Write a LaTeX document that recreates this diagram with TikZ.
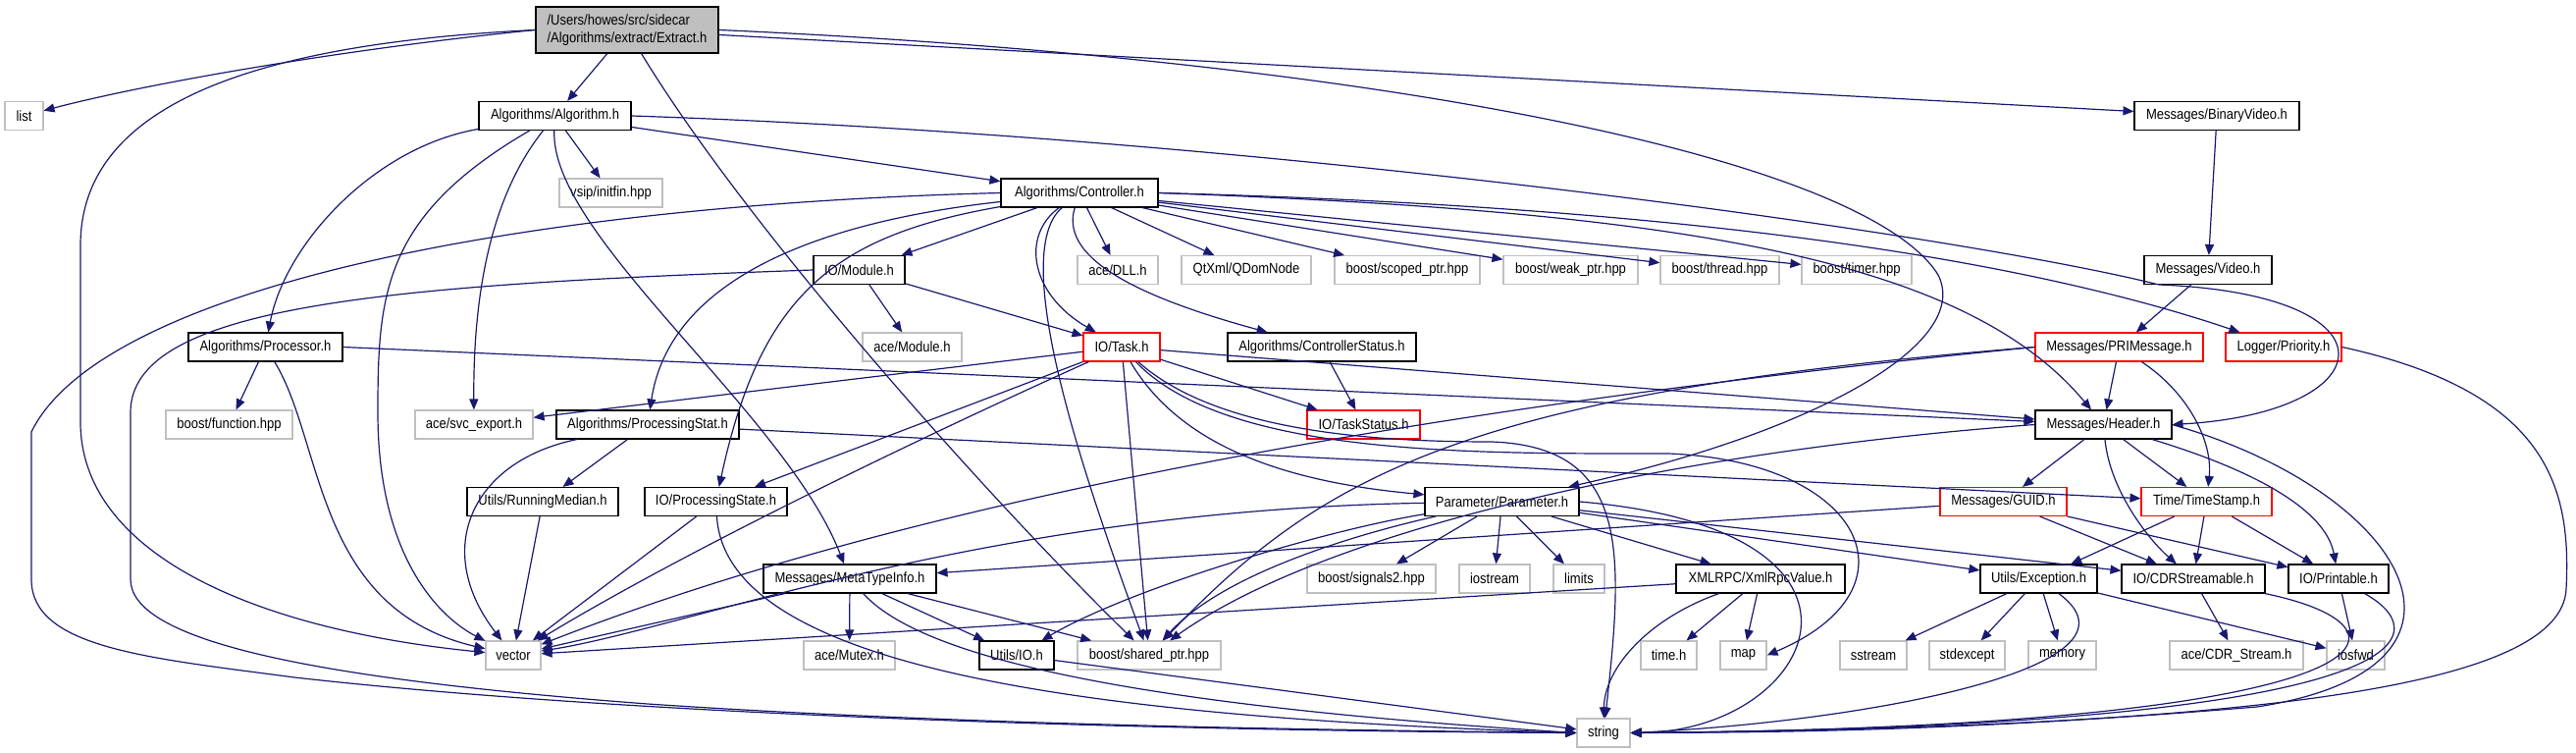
\documentclass[tikz,border=0pt]{standalone}
\usepackage{fontspec}
\setmainfont{Liberation Sans}
\newfontfamily\nodefont[FakeStretch=0.88]{Liberation Sans}
\usetikzlibrary{arrows.meta,positioning}
\definecolor{edgeBlue}{HTML}{191970}
\definecolor{extGray}{HTML}{BFBFBF}
\definecolor{rootGray}{HTML}{BFBFBF}

\begin{document}
\begin{tikzpicture}[x=1pt, y=-1pt,
    hnode/.style={
      rectangle, draw=black, fill=white, line width=1.1pt,
      minimum height=29pt, inner sep=0pt,
      font=\nodefont\fontsize{14.8}{18}\selectfont, text=black
    },
    xnode/.style={hnode, draw=extGray},
    rnode/.style={hnode, draw=red},
    bw/.style={minimum width=#1pt},
    arr/.style={-{Triangle[length=11pt, width=9pt]}, line width=1.2pt, draw=edgeBlue}
  ]
    \useasboundingbox (0,0) rectangle (2625,767);

    \node[hnode, fill=rootGray, bw=186, minimum height=47pt, align=left] (extract) at (639,30.5) {/Users/howes/src/sidecar\\/Algorithms/extract/Extract.h};

    \node[xnode, bw=39] (list) at (24.5,118) {list};
    \node[hnode, bw=155] (algo) at (565.5,118) {Algorithms/Algorithm.h};
    \node[hnode, bw=168] (binvid) at (2259,118) {Messages/BinaryVideo.h};

    \node[xnode, bw=105] (vsip) at (622.5,196.5) {vsip/initfin.hpp};
    \node[hnode, bw=160] (ctrl) at (1100,196.5) {Algorithms/Controller.h};

    \node[hnode, bw=93] (module) at (875.5,275) {IO/Module.h};
    \node[xnode, bw=82] (dll) at (1139,275) {ace/DLL.h};
    \node[xnode, bw=132] (qdom) at (1270,275) {QtXml/QDomNode};
    \node[xnode, bw=148] (scoped) at (1434,275) {boost/scoped\_ptr.hpp};
    \node[xnode, bw=137] (weak) at (1600.5,275) {boost/weak\_ptr.hpp};
    \node[xnode, bw=121] (thread) at (1752.5,275) {boost/thread.hpp};
    \node[xnode, bw=112] (timer) at (1892,275) {boost/timer.hpp};
    \node[hnode, bw=130] (video) at (2250,275) {Messages/Video.h};

    \node[hnode, bw=157] (processor) at (270.5,353.5) {Algorithms/Processor.h};
    \node[xnode, bw=101] (acemod) at (929.5,353.5) {ace/Module.h};
    \node[rnode, bw=78] (task) at (1143,353.5) {IO/Task.h};
    \node[hnode, bw=192] (ctrlstat) at (1347,353.5) {Algorithms/ControllerStatus.h};
    \node[rnode, bw=171] (primsg) at (2159.5,353.5) {Messages/PRIMessage.h};
    \node[rnode, bw=118] (priority) at (2327,353.5) {Logger/Priority.h};

    \node[xnode, bw=129] (function) at (233.5,432.5) {boost/function.hpp};
    \node[xnode, bw=120] (svcexp) at (483,432.5) {ace/svc\_export.h};
    \node[hnode, bw=186] (pstat) at (660,432.5) {Algorithms/ProcessingStat.h};
    \node[rnode, bw=115] (taskstat) at (1389.5,432.5) {IO/TaskStatus.h};
    \node[hnode, bw=139] (header) at (2143.5,432.5) {Messages/Header.h};

    \node[hnode, bw=154] (median) at (553,511) {Utils/RunningMedian.h};
    \node[hnode, bw=145] (pstate) at (729.5,511) {IO/ProcessingState.h};
    \node[hnode, bw=157] (param) at (1530.5,511) {Parameter/Parameter.h};
    \node[rnode, bw=129] (guid) at (2041.5,511) {Messages/GUID.h};
    \node[rnode, bw=133] (tstamp) at (2248.5,511) {Time/TimeStamp.h};

    \node[hnode, bw=176] (meta) at (866,589.5) {Messages/MetaTypeInfo.h};
    \node[xnode, bw=131] (signals) at (1397.5,589.5) {boost/signals2.hpp};
    \node[xnode, bw=72] (iostream) at (1523,589.5) {iostream};
    \node[xnode, bw=52] (limits) at (1609,589.5) {limits};
    \node[hnode, bw=172] (xmlrpc) at (1794,589.5) {XMLRPC/XmlRpcValue.h};
    \node[hnode, bw=119] (except) at (2077.5,589.5) {Utils/Exception.h};
    \node[hnode, bw=146] (cdr) at (2235,589.5) {IO/CDRStreamable.h};
    \node[hnode, bw=102] (printable) at (2383,589.5) {IO/Printable.h};

    \node[xnode, bw=56] (vector) at (523,667.5) {vector};
    \node[xnode, bw=93] (mutex) at (865.5,667.5) {ace/Mutex.h};
    \node[hnode, bw=76] (utilsio) at (1036,667.5) {Utils/IO.h};
    \node[xnode, bw=146] (shared) at (1171,667.5) {boost/shared\_ptr.hpp};
    \node[xnode, bw=57] (timeh) at (1700.5,667.5) {time.h};
    \node[xnode, bw=47] (map) at (1776.5,667.5) {map};
    \node[xnode, bw=68] (sstream) at (1909,667.5) {sstream};
    \node[xnode, bw=77] (stdexcept) at (2004.5,667.5) {stdexcept};
    \node[xnode, bw=69] (memory) at (2101.5,667.5) {memory};
    \node[xnode, bw=136] (cdrstream) at (2279,667.5) {ace/CDR\_Stream.h};
    \node[xnode, bw=59] (iosfwd) at (2400.5,667.5) {iosfwd};

    \node[xnode, bw=54] (string) at (1634,746.5) {string};

    \draw[arr] (extract.west) .. controls (350,50) and (150,85) .. (list);
    \draw[arr] (extract) -- (algo);
    \draw[arr] (extract.west) .. controls (250,45) and (82,110) .. (82,250) -- (82,430) .. controls (82,560) and (250,640) .. (vector);
    \draw[arr] (extract) .. controls (760,230) and (1000,500) .. (shared);
    \draw[arr] (extract.east) .. controls (1400,60) and (1900,160) .. (1975,280) .. controls (2010,350) and (1850,440) .. (param);
    \draw[arr] (extract) -- (binvid);

    \draw[arr] (algo) .. controls (380,150) and (290,250) .. (processor);
    \draw[arr] (algo) .. controls (390,220) and (385,300) .. (385,420) .. controls (385,570) and (450,630) .. (vector);
    \draw[arr] (algo) .. controls (500,200) and (482,300) .. (svcexp);
    \draw[arr] (algo) .. controls (560,240) and (800,420) .. (meta);
    \draw[arr] (algo) -- (vsip);
    \draw[arr] (algo) -- (ctrl);
    \draw[arr] (algo.east) .. controls (1300,140) and (2000,240) .. (2200,290) .. controls (2450,300) and (2430,420) .. (header.east);

    \draw[arr] (ctrl.west) .. controls (500,210) and (100,300) .. (32,440) -- (32,590) .. controls (32,660) and (150,670) .. (300,690) .. controls (700,735) and (1300,745) .. (string.west);
    \draw[arr] (ctrl) -- (module);
    \draw[arr] (ctrl) .. controls (800,230) and (680,300) .. (pstat);
    \draw[arr] (ctrl) .. controls (850,240) and (775,300) .. (pstate);
    \draw[arr] (ctrl) .. controls (1040,240) and (1050,300) .. (task);
    \draw[arr] (ctrl) .. controls (1025,260) and (1110,500) .. (shared);
    \draw[arr] (ctrl) .. controls (1080,260) and (1150,300) .. (ctrlstat);
    \draw[arr] (ctrl) -- (dll);
    \draw[arr] (ctrl) -- (qdom);
    \draw[arr] (ctrl) -- (scoped);
    \draw[arr] (ctrl) -- (weak);
    \draw[arr] (ctrl) -- (thread);
    \draw[arr] (ctrl) -- (timer);
    \draw[arr] (ctrl.east) .. controls (1700,215) and (2000,260) .. (header);
    \draw[arr] (ctrl.east) .. controls (1700,210) and (2050,260) .. (priority);

    \draw[arr] (module.west) .. controls (400,290) and (133,310) .. (133,420) -- (133,590) .. controls (133,650) and (300,690) .. (660,717) .. controls (1000,740) and (1400,744) .. (string.west);
    \draw[arr] (module) -- (acemod);
    \draw[arr] (module) -- (task);

    \draw[arr] (processor) -- (function);
    \draw[arr] (processor) .. controls (330,450) and (320,620) .. (vector);
    \draw[arr] (processor.east) -- (header);

    \draw[arr] (task) -- (svcexp);
    \draw[arr] (task) -- (pstate);
    \draw[arr] (task) .. controls (950,440) and (700,560) .. (vector);
    \draw[arr] (task) -- (shared);
    \draw[arr] (task) .. controls (1200,450) and (1300,490) .. (param);
    \draw[arr] (task) -- (taskstat);
    \draw[arr] (task) -- (header);
    \draw[arr] (task) .. controls (1240,440) and (1400,450) .. (1520,450) .. controls (1660,455) and (1655,560) .. (string);
    \draw[arr] (task) .. controls (1250,465) and (1500,462) .. (1700,462) .. controls (1900,470) and (1960,600) .. (map.east);

    \draw[arr] (ctrlstat) -- (taskstat);
    \draw[arr] (binvid) -- (video);
    \draw[arr] (video) -- (primsg);

    \draw[arr] (primsg) -- (header);
    \draw[arr] (primsg) .. controls (2230,400) and (2255,450) .. (tstamp);
    \draw[arr] (primsg.west) .. controls (1500,400) and (1350,480) .. (shared);
    \draw[arr] (primsg.west) .. controls (1400,420) and (900,520) .. (vector);
    \draw[arr] (priority.east) .. controls (2600,400) and (2620,500) .. (2615,600) .. controls (2610,700) and (2300,740) .. (string.east);

    \draw[arr] (pstat) -- (median);
    \draw[arr] (pstat) .. controls (480,470) and (440,560) .. (vector);
    \draw[arr] (pstat) -- (tstamp);
    \draw[arr] (median) -- (vector);
    \draw[arr] (pstate) -- (vector);
    \draw[arr] (pstate) .. controls (740,680) and (1100,730) .. (string.west);

    \draw[arr] (header) -- (guid);
    \draw[arr] (header) -- (tstamp);
    \draw[arr] (header) .. controls (2150,500) and (2190,550) .. (cdr);
    \draw[arr] (header) .. controls (2300,480) and (2370,520) .. (printable);
    \draw[arr] (header.west) .. controls (1700,460) and (1350,540) .. (shared);
    \draw[arr] (header.east) .. controls (2450,500) and (2560,680) .. (2300,720) .. controls (2000,745) and (1800,746) .. (string.east);

    \draw[arr] (param) -- (signals);
    \draw[arr] (param) -- (iostream);
    \draw[arr] (param) -- (limits);
    \draw[arr] (param) -- (xmlrpc);
    \draw[arr] (param) -- (except);
    \draw[arr] (param) -- (cdr);
    \draw[arr] (param) .. controls (1400,540) and (1250,580) .. (shared);
    \draw[arr] (param) .. controls (1350,540) and (1150,600) .. (utilsio);
    \draw[arr] (param) .. controls (1000,520) and (700,640) .. (vector);
    \draw[arr] (param.east) .. controls (1950,540) and (1850,745) .. (string.east);

    \draw[arr] (guid) -- (meta);
    \draw[arr] (guid) -- (cdr);
    \draw[arr] (guid) -- (printable);
    \draw[arr] (tstamp) -- (except);
    \draw[arr] (tstamp) -- (cdr);
    \draw[arr] (tstamp) -- (printable);

    \draw[arr] (meta) -- (mutex);
    \draw[arr] (meta) -- (utilsio);
    \draw[arr] (meta) -- (shared);
    \draw[arr] (meta) -- (vector);
    \draw[arr] (meta) .. controls (930,660) and (1100,715) .. (string.west);
    \draw[arr] (utilsio) -- (string);

    \draw[arr] (xmlrpc) -- (vector);
    \draw[arr] (xmlrpc) -- (timeh);
    \draw[arr] (xmlrpc) -- (map);
    \draw[arr] (xmlrpc) .. controls (1680,630) and (1635,680) .. (string);

    \draw[arr] (except) -- (sstream);
    \draw[arr] (except) -- (stdexcept);
    \draw[arr] (except) -- (memory);
    \draw[arr] (except) -- (iosfwd);
    \draw[arr] (except) .. controls (2200,680) and (1900,735) .. (string.east);
    \draw[arr] (cdr) -- (cdrstream);
    \draw[arr] (cdr) .. controls (2480,640) and (2450,740) .. (string.east);
    \draw[arr] (printable) -- (iosfwd);
    \draw[arr] (printable) .. controls (2490,650) and (2460,740) .. (string.east);
  \end{tikzpicture}
\end{document}
